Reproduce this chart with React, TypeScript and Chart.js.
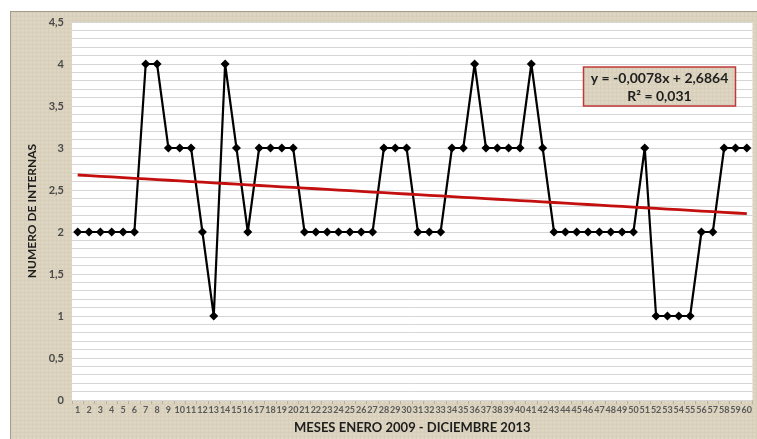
import { useEffect, useRef } from "react";
import { Chart, registerables } from "chart.js";

Chart.register(...registerables);

// Months from January 2009 (1) to December 2013 (60)
const MONTHS = [
  "1", "2", "3", "4", "5", "6", "7", "8", "9", "10",
  "11", "12", "13", "14", "15", "16", "17", "18", "19", "20",
  "21", "22", "23", "24", "25", "26", "27", "28", "29", "30",
  "31", "32", "33", "34", "35", "36", "37", "38", "39", "40",
  "41", "42", "43", "44", "45", "46", "47", "48", "49", "50",
  "51", "52", "53", "54", "55", "56", "57", "58", "59", "60",
];

// Number of interns per month
const INTERNAS = [
  2, 2, 2, 2, 2, 2, 4, 4, 3, 3,
  3, 2, 1, 4, 3, 2, 3, 3, 3, 3,
  2, 2, 2, 2, 2, 2, 2, 3, 3, 3,
  2, 2, 2, 3, 3, 4, 3, 3, 3, 3,
  4, 3, 2, 2, 2, 2, 2, 2, 2, 2,
  3, 1, 1, 1, 1, 2, 2, 3, 3, 3,
];

// Linear trend: y = slope * x + intercept
const TREND_SLOPE = -0.0078;
const TREND_INTERCEPT = 2.6864;
const TREND_LABELS = ["y = -0,0078x + 2,6864", "R² = 0,031"];

const Y_MIN = 0;
const Y_MAX = 4.5;
const Y_STEP = 0.1;

const FONT = "Lato, 'Open Sans', sans-serif";
const LINEN = "#dcd4c0";

// Fine linen-like fill used for the frame and the equation box
function linenPattern(ctx: CanvasRenderingContext2D): CanvasPattern | string {
  const tile = document.createElement("canvas");
  tile.width = 4;
  tile.height = 4;
  const t = tile.getContext("2d");
  if (!t) return LINEN;
  t.fillStyle = LINEN;
  t.fillRect(0, 0, 4, 4);
  t.fillStyle = "#d7cfba";
  t.fillRect(0, 0, 4, 1);
  t.fillRect(0, 0, 1, 4);
  t.fillStyle = "#e2dbca";
  t.fillRect(2, 2, 1, 1);
  return ctx.createPattern(tile, "repeat") || LINEN;
}

const backdrop = {
  id: "backdrop",
  beforeDraw(chart: Chart) {
    const { ctx, width, height, chartArea } = chart;
    ctx.save();
    ctx.fillStyle = "#ffffff";
    ctx.fillRect(0, 0, width, height);
    ctx.fillStyle = linenPattern(ctx);
    ctx.fillRect(10, 11, width - 10, height - 11);
    ctx.strokeStyle = "#a29b8b";
    ctx.lineWidth = 1;
    ctx.strokeRect(10.5, 11.5, width, height);
    ctx.fillStyle = "#ffffff";
    ctx.fillRect(
      chartArea.left,
      chartArea.top,
      chartArea.right - chartArea.left,
      chartArea.bottom - chartArea.top
    );
    ctx.restore();
  },
};

const trendBox = {
  id: "trendBox",
  afterDatasetsDraw(chart: Chart) {
    const { ctx, chartArea } = chart;
    const w = 152;
    const h = 39;
    const x = chartArea.right - 169;
    const y = chartArea.top + 45;
    ctx.save();
    ctx.fillStyle = linenPattern(ctx);
    ctx.fillRect(x, y, w, h);
    ctx.strokeStyle = "#c0383a";
    ctx.lineWidth = 1.5;
    ctx.strokeRect(x, y, w, h);
    ctx.fillStyle = "#1e1e1e";
    ctx.font = `bold 14px ${FONT}`;
    ctx.textAlign = "center";
    ctx.textBaseline = "middle";
    ctx.fillText(TREND_LABELS[0], x + w / 2, y + 11);
    ctx.fillText(TREND_LABELS[1], x + w / 2, y + 29);
    ctx.restore();
  },
};

function formatTick(v: number): string {
  const half = v * 2;
  if (Math.abs(half - Math.round(half)) > 1e-6) return "";
  return String(Math.round(v * 10) / 10).replace(".", ",");
}

export default function App() {
  const ref = useRef<HTMLCanvasElement>(null);

  useEffect(() => {
    if (!ref.current) return;
    const trend = MONTHS.map((_, i) => TREND_SLOPE * (i + 1) + TREND_INTERCEPT);
    const chart = new Chart(ref.current, {
      type: "line",
      data: {
        labels: MONTHS,
        datasets: [
          {
            label: "Tendencia",
            data: trend,
            borderColor: "#c40f0f",
            borderWidth: 2.8,
            pointRadius: 0,
            tension: 0,
            order: 0,
          },
          {
            label: "Internas",
            data: INTERNAS,
            borderColor: "#000000",
            backgroundColor: "#000000",
            borderWidth: 2.2,
            borderJoinStyle: "round",
            pointStyle: "rectRot",
            pointRadius: 4.5,
            pointBorderWidth: 0,
            tension: 0,
            order: 1,
          },
        ],
      },
      options: {
        animation: false,
        responsive: true,
        maintainAspectRatio: false,
        layout: { padding: { left: 10, top: 22, right: 2, bottom: 0 } },
        plugins: {
          legend: { display: false },
          tooltip: { enabled: false },
        },
        scales: {
          x: {
            type: "category",
            offset: true,
            afterFit: (scale: any) => {
              scale.height = 39;
            },
            grid: {
              offset: true,
              drawOnChartArea: false,
              drawTicks: true,
              tickLength: 4,
              color: "#b8b09f",
            },
            border: { display: false },
            ticks: {
              autoSkip: false,
              maxRotation: 0,
              minRotation: 0,
              padding: 1,
              color: "#5a5a5a",
              font: { family: FONT, size: 9, weight: "bold" },
            },
            title: {
              display: true,
              text: "MESES ENERO 2009 - DICIEMBRE 2013",
              color: "#1e1e1e",
              font: { family: FONT, size: 13, weight: "bold", lineHeight: 1.2 },
              padding: { top: 0, bottom: 3 },
            },
          },
          y: {
            min: Y_MIN,
            max: Y_MAX,
            afterFit: (scale: any) => {
              scale.width = 62;
            },
            grid: {
              color: "#d6d6d6",
              lineWidth: 1,
              drawTicks: false,
            },
            border: { display: false },
            ticks: {
              stepSize: Y_STEP,
              autoSkip: false,
              padding: 8,
              color: "#4a4a4a",
              font: { family: FONT, size: 11, weight: "bold" },
              callback: (v: any) => formatTick(Number(v)),
            },
            title: {
              display: true,
              text: "NUMERO DE INTERNAS",
              color: "#1e1e1e",
              font: { family: FONT, size: 12, weight: "bold", lineHeight: 1.2 },
              padding: { top: 15, bottom: 0 },
            },
          },
        },
      },
      plugins: [backdrop, trendBox],
    });
    return () => chart.destroy();
  }, []);

  return (
    <div style={{ position: "absolute", left: 0, top: 0, width: 757, height: 439 }}>
      <canvas ref={ref} />
    </div>
  );
}
